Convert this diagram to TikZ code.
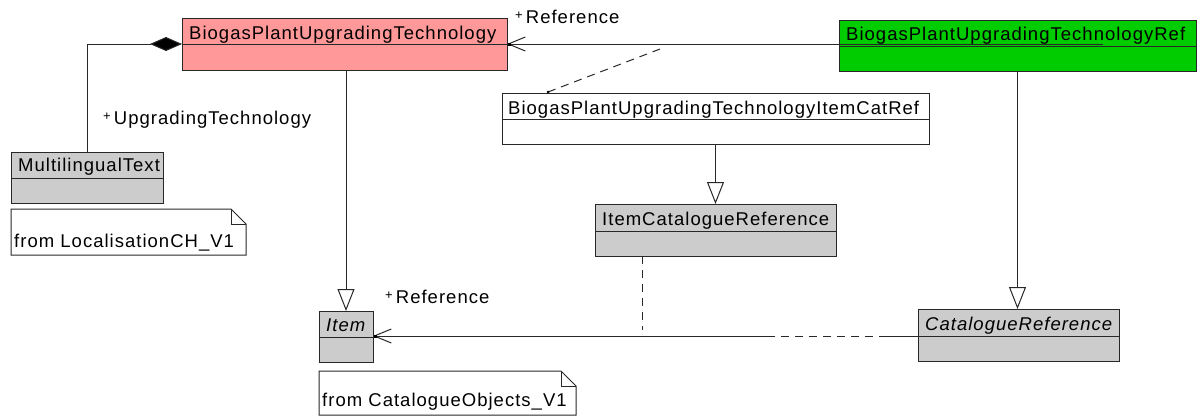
\documentclass[tikz,border=0pt]{standalone}
\usepackage{fontspec}
\setmainfont{Liberation Sans}[LetterSpace=5.5]
\usetikzlibrary{arrows.meta}
\definecolor{pinkc}{RGB}{255,153,153}
\definecolor{greenc}{RGB}{0,204,0}
\definecolor{grayc}{RGB}{204,204,204}
\definecolor{linec}{RGB}{40,40,40}
\newcommand{\plusmark}{{\fontsize{13}{13}\selectfont\raisebox{4pt}{+}}\,}
\begin{document}
\begin{tikzpicture}[x=1pt,y=-1pt,
  box/.style={draw=linec, line width=1pt, anchor=north west, inner sep=0pt, outer sep=0pt},
  txt/.style={anchor=base west, inner sep=0pt, font=\fontsize{18.5}{20}\selectfont, text=black},
  lbl/.style={anchor=base west, inner sep=0pt, font=\fontsize{18.5}{20}\selectfont, text=black},
  divl/.style={draw=linec, line width=1pt},
  gen/.style={draw=linec, line width=1pt, -{Triangle[open,length=22pt,width=17pt,fill=white]}},
  assoc/.style={draw=linec, line width=1pt, -{Straight Barb[length=17pt,width=14pt]}},
  comp/.style={draw=linec, line width=1pt, {Diamond[length=32pt,width=14pt,fill=black]}-},
  dlink/.style={draw=linec, line width=1pt, dash pattern=on 8pt off 6pt},
  notebox/.style={draw=linec, line width=1pt, fill=white}
]
\useasboundingbox (0,0) rectangle (1200,416);
% classes
\node[box, fill=pinkc, minimum width=325pt, minimum height=52pt] (bput) at (182,18) {};
\node[box, fill=greenc, minimum width=357pt, minimum height=51pt] (bputref) at (839,20) {};
\node[box, fill=grayc, minimum width=152pt, minimum height=51pt] (mlt) at (11,152) {};
\node[box, fill=white, minimum width=427pt, minimum height=51pt] (icr) at (502,93) {};
\node[box, fill=grayc, minimum width=241pt, minimum height=52pt] (itemcr) at (595,204) {};
\node[box, fill=grayc, minimum width=54pt, minimum height=51pt] (item) at (319,311) {};
\node[box, fill=grayc, minimum width=201pt, minimum height=52pt] (catref) at (918,309) {};
% dividers
\draw[divl] (bput.west |- 0,44) -- (bput.east |- 0,44);
\draw[divl] (bputref.west |- 0,46.5) -- (bputref.east |- 0,46.5);
\draw[divl] (mlt.west |- 0,178) -- (mlt.east |- 0,178);
\draw[divl] (icr.west |- 0,119) -- (icr.east |- 0,119);
\draw[divl] (itemcr.west |- 0,231) -- (itemcr.east |- 0,231);
\draw[divl] (item.west |- 0,337) -- (item.east |- 0,337);
\draw[divl] (catref.west |- 0,336) -- (catref.east |- 0,336);
% notes
\draw[notebox] (11,209) -- (231,209) -- (246,224) -- (246,255) -- (11,255) -- cycle;
\draw[divl] (231,209) -- (231,224) -- (246,224);
\draw[notebox] (319,371) -- (561,371) -- (576,386) -- (576,415) -- (319,415) -- cycle;
\draw[divl] (561,371) -- (561,386) -- (576,386);
% coordinates
\coordinate (aend) at (1103,44);
\coordinate (dtop) at (660,49);
\coordinate (dbot) at (548,92);
\coordinate (m1) at (768,336);
\coordinate (m2) at (887,336);
\coordinate (m3) at (642,330);
% connectors
\draw[comp] (bput.west) -| (mlt.north);
\draw[gen] (bput.south -| item.north) -- (item.north);
\draw[gen] (icr.south) -- (itemcr.north);
\draw[gen] (bputref.south) -- (catref.north -| bputref.south);
\draw[assoc] (aend) -- (bput.east);
\fill[black] ([xshift=2pt]bput.east) ++(-1.5,-1.5) rectangle ++(3,3);
\draw[dlink] (dtop) -- (dbot);
\fill[black] (dbot) circle (1.5pt);
\draw[divl] (catref.west |- m2) -- (m2);
\draw[dlink] (m2) -- (m1);
\draw[assoc] (m1) -- (item.east |- m1);
\fill[black] ([xshift=2pt]item.east |- m1) ++(-1.5,-1.5) rectangle ++(3,3);
\draw[dlink] (itemcr.south -| m3) -- (m3);
% texts
\node[txt] (t-bput) at (189,39) {BiogasPlantUpgradingTechnology};
\node[txt] (t-bputref) at (846,40) {BiogasPlantUpgradingTechnologyRef};
\node[txt] (t-mlt) at (18,171.5) {MultilingualText};
\node[txt] (t-icr) at (508,114) {BiogasPlantUpgradingTechnologyItemCatRef};
\node[txt] (t-itemcr) at (602,225) {ItemCatalogueReference};
\node[txt] (t-item) at (326,331) {\itshape Item};
\node[txt] (t-catref) at (925,330) {\itshape CatalogueReference};
\node[txt] (t-n1) at (14,247) {from LocalisationCH\_V1};
\node[txt] (t-n2) at (322,406.5) {from CatalogueObjects\_V1};
\node[lbl] (l-up) at (103,124) {\plusmark UpgradingTechnology};
\node[lbl] (l-ref1) at (515,23.5) {\plusmark Reference};
\node[lbl] (l-ref2) at (385,303) {\plusmark Reference};
\end{tikzpicture}
\end{document}
